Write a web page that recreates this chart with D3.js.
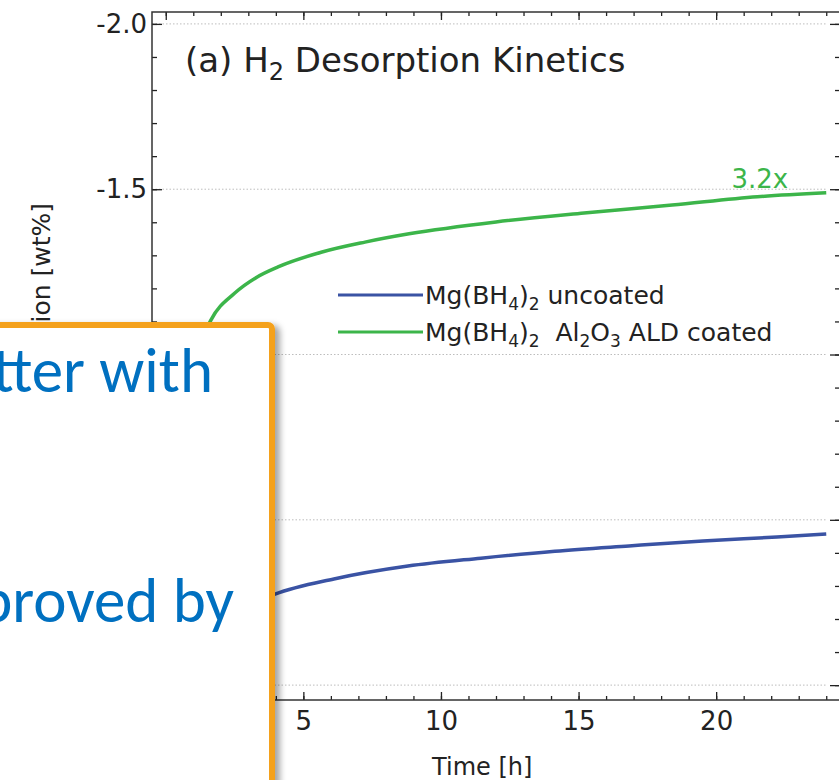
<!DOCTYPE html>
<html>
<head>
<meta charset="utf-8">
<script src="https://cdn.jsdelivr.net/npm/d3@7"></script>
<style>
  body { margin: 0; background: #fff; overflow: hidden; }
  svg { display: block; }
</style>
</head>
<body>
<div id="chart"></div>
<script>
// Desorption curves (time in hours, desorbed H2 in wt%)
const hoursUncoated = [0, 0.5, 1, 1.5, 2, 3, 3.97, 6.11, 8.8, 11.45, 14.14, 16.83, 19.52, 22.21, 24];
const wtUncoated = [0, -0.06, -0.11, -0.15, -0.19, -0.24, -0.275, -0.321, -0.36, -0.384, -0.405, -0.421, -0.436, -0.448, -0.457];

const hoursCoated = [0, 0.1, 0.25, 0.5, 0.75, 1.0, 1.25, 1.64, 2.51, 3.31, 4.08, 5.68, 7.24, 8.84, 12.0, 15.2, 18.4, 21.5, 24];
const wtCoated = [0, -0.15, -0.4, -0.65, -0.82, -0.94, -1.03, -1.104, -1.186, -1.234, -1.265, -1.31, -1.34, -1.365, -1.401, -1.428, -1.452, -1.477, -1.489];

const seriesNames = ["uncoated", "coated"];
const yTicks = [-2.0, -1.5, -1.0, -0.5, 0.0];
const xTicks = [0, 5, 10, 15, 20];
const ratioLabel = "3.2x";

const W = 839, H = 780;
const plotLeft = 152, plotRight = 840, plotTop = 12, plotBottom = 700;
const green = "#3cb54a", blue = "#3a53a4";
const font = "'DejaVu Sans', Verdana, sans-serif";

const svg = d3.select("#chart").append("svg")
    .attr("width", W)
    .attr("height", H);

svg.append("rect").attr("width", W).attr("height", H).attr("fill", "#fff");

// scales (y axis is inverted: more desorption points up)
const x = d3.scaleLinear().domain([-0.5, 24.5]).range([plotLeft, plotRight]);
const y = d3.scaleLinear().domain([0.045, -2.036]).range([plotBottom, plotTop]);

// dotted horizontal grid
svg.append("g")
    .selectAll("line")
    .data(yTicks)
    .enter()
    .append("line")
    .attr("x1", plotLeft)
    .attr("x2", x(24))
    .attr("y1", d => y(d))
    .attr("y2", d => y(d))
    .attr("stroke", "#bdbdbd")
    .attr("stroke-width", 1)
    .attr("stroke-dasharray", "1.5,2");

// helper for inward ticks (minor + major)
function drawAxis(axisFn, scale, transform, minorVals, majorVals, minorLen, majorLen, labels, pad) {
  const minor = svg.append("g").attr("transform", transform)
      .call(axisFn(scale).tickValues(minorVals).tickSize(-minorLen).tickFormat(""));
  const major = svg.append("g").attr("transform", transform)
      .call(axisFn(scale).tickValues(majorVals).tickSize(-majorLen).tickPadding(pad || 6)
        .tickFormat(labels ? labels : ""));
  [minor, major].forEach(g => {
    g.select(".domain").remove();
    g.selectAll("line").attr("stroke", "#222").attr("stroke-width", 1.3);
    g.selectAll("text").attr("fill", "#222").style("font-family", font).style("font-size", "26px");
  });
  return major;
}

const minorX = d3.range(0, 25, 1);
const minorY = d3.range(-20, 1, 1).map(d => d / 10);
const hyphenFormat = d => d3.format(".1f")(d).replace("\u2212", "-");

drawAxis(d3.axisBottom, x, `translate(0,${plotBottom})`, minorX, xTicks, 4, 8, d3.format("d"), 12);
drawAxis(d3.axisTop, x, `translate(0,${plotTop})`, minorX, xTicks, 4, 8, null);
drawAxis(d3.axisLeft, y, `translate(${plotLeft},0)`, minorY, yTicks, 5, 10, hyphenFormat, 5);
drawAxis(d3.axisRight, y, `translate(${plotRight},0)`, minorY, yTicks, 5, 10, null);

// plot frame
svg.append("rect")
    .attr("x", plotLeft)
    .attr("y", plotTop)
    .attr("width", plotRight - plotLeft)
    .attr("height", plotBottom - plotTop)
    .attr("fill", "none")
    .attr("stroke", "#333")
    .attr("stroke-width", 1.5);

// curves
svg.append("clipPath").attr("id", "plotClip")
    .append("rect").attr("x", plotLeft).attr("y", plotTop)
    .attr("width", plotRight - plotLeft).attr("height", plotBottom - plotTop);

const line = d3.line()
    .x(d => x(d[0]))
    .y(d => y(d[1]))
    .curve(d3.curveMonotoneX);

const curves = [
  { name: seriesNames[0], color: blue, pts: hoursUncoated.map((h, i) => [h, wtUncoated[i]]) },
  { name: seriesNames[1], color: green, pts: hoursCoated.map((h, i) => [h, wtCoated[i]]) }
];

svg.append("g").attr("clip-path", "url(#plotClip)")
    .selectAll("path")
    .data(curves)
    .enter()
    .append("path")
    .attr("d", d => line(d.pts))
    .attr("fill", "none")
    .attr("stroke", d => d.color)
    .attr("stroke-width", 3.5);

// ratio label at the end of the coated curve
svg.append("text")
    .attr("x", x(24) - 38)
    .attr("y", y(wtCoated[wtCoated.length - 1]) - 5)
    .attr("text-anchor", "end")
    .attr("fill", green)
    .style("font-family", font)
    .style("font-size", "26px")
    .text(ratioLabel);

// title
const title = svg.append("text")
    .attr("x", 185)
    .attr("y", 72)
    .attr("fill", "#222")
    .style("font-family", font)
    .style("font-size", "34px");
title.append("tspan").text("(a) H");
title.append("tspan").attr("dy", 8).style("font-size", "24px").text("2");
title.append("tspan").attr("dy", -8).text(" Desorption Kinetics");

// legend
const legendItems = [
  { color: blue, parts: [["Mg(BH", 0], ["4", 1], [")", 0], ["2", 1], [" uncoated", 0]] },
  { color: green, parts: [["Mg(BH", 0], ["4", 1], [")", 0], ["2", 1], ["  Al", 0], ["2", 1], ["O", 0], ["3", 1], [" ALD coated", 0]] }
];

const legend = svg.selectAll(".legend")
    .data(legendItems)
    .enter()
    .append("g")
    .attr("class", "legend")
    .attr("transform", (d, i) => `translate(338,${295 + i * 37})`);

legend.append("line")
    .attr("x1", 0).attr("x2", 85)
    .attr("stroke", d => d.color)
    .attr("stroke-width", 3);

legend.append("text")
    .attr("x", 87)
    .attr("y", 9)
    .attr("fill", "#222")
    .style("font-family", font)
    .style("font-size", "25px")
    .style("white-space", "pre")
    .each(function(d) {
      const t = d3.select(this);
      let prevSub = 0;
      d.parts.forEach(p => {
        const s = t.append("tspan").text(p[0]);
        if (p[1]) s.style("font-size", "17px");
        if (p[1] !== prevSub) s.attr("dy", p[1] ? 6 : -6);
        prevSub = p[1];
      });
    });

// axis titles
svg.append("text")
    .attr("x", x(11.5))
    .attr("y", 775)
    .attr("text-anchor", "middle")
    .attr("fill", "#222")
    .style("font-family", font)
    .style("font-size", "24px")
    .text("Time [h]");

svg.append("text")
    .attr("transform", "translate(50,203) rotate(-90)")
    .attr("text-anchor", "end")
    .attr("fill", "#222")
    .style("font-family", font)
    .style("font-size", "25px")
    .text("Desorption [wt%]");

// overlaid slide text box
const defs = svg.append("defs");
const shadow = defs.append("filter").attr("id", "shadow")
    .attr("x", "-10%").attr("y", "-10%").attr("width", "130%").attr("height", "130%");
shadow.append("feDropShadow")
    .attr("dx", 5).attr("dy", 3)
    .attr("stdDeviation", 3)
    .attr("flood-color", "#000")
    .attr("flood-opacity", 0.35);

svg.append("rect")
    .attr("x", -20)
    .attr("y", 325)
    .attr("width", 292)
    .attr("height", 520)
    .attr("rx", 4)
    .attr("fill", "#fff")
    .attr("stroke", "#f4a11c")
    .attr("stroke-width", 6)
    .attr("filter", "url(#shadow)");

const boxLines = [["better with", 213, 392], ["improved by", 234, 622]];
svg.selectAll(".boxText")
    .data(boxLines)
    .enter()
    .append("text")
    .attr("class", "boxText")
    .attr("x", d => d[1])
    .attr("y", d => d[2])
    .attr("text-anchor", "end")
    .attr("fill", "#0070c0")
    .style("font-family", "Calibri, Carlito, Lato, sans-serif")
    .style("font-size", "63px")
    .text(d => d[0]);
</script>
</body>
</html>
